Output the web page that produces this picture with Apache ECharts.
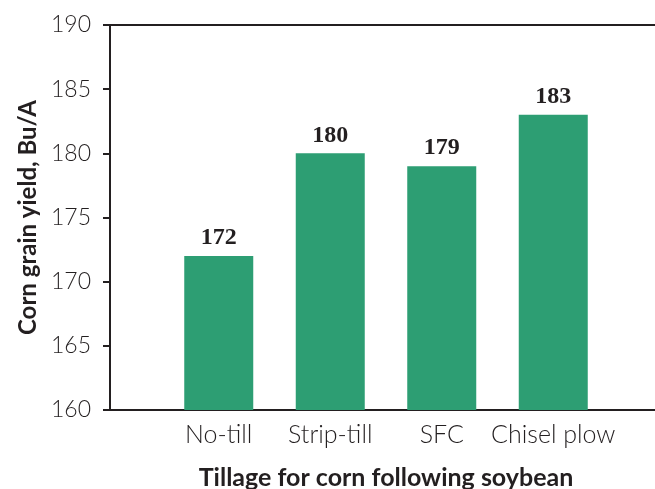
<!DOCTYPE html>
<html>
<head>
<meta charset="utf-8">
<script src="https://cdn.jsdelivr.net/npm/echarts@6/dist/echarts.min.js"></script>
<style>
  html, body { margin: 0; padding: 0; background: #fff; }
  #chart { width: 655px; height: 489px; }
</style>
</head>
<body>
<div id="chart"></div>
<script>
// Corn yield by tillage system (soybean-corn rotation)
const categories = ['No-till', 'Strip-till', 'SFC', 'Chisel plow'];
const yieldValues = [172, 180, 179, 183];
const yTicks = { min: 160, max: 190, step: 5 };

const textColor = '#231f20';
const labelFont = 'Lato, "Open Sans", sans-serif';

const chart = echarts.init(document.getElementById('chart'), null, { renderer: 'canvas' });

chart.setOption({
  animation: false,
  backgroundColor: '#ffffff',
  grid: [
    // frame: y axis with ticks, bottom and top rules spanning to the right edge
    { left: 110, right: 0, top: 25, bottom: 79, containLabel: false, outerBoundsMode: 'none' },
    // bars
    { left: 163, right: 46, top: 25, bottom: 79, containLabel: false, outerBoundsMode: 'none' }
  ],
  xAxis: [
    {
      gridIndex: 0, type: 'value', position: 'bottom', min: 0, max: 1,
      axisLine: { show: true, lineStyle: { color: textColor, width: 2 } },
      axisTick: { show: false }, axisLabel: { show: false }, splitLine: { show: false }
    },
    {
      gridIndex: 0, type: 'value', position: 'top', min: 0, max: 1,
      axisLine: { show: true, lineStyle: { color: textColor, width: 2 } },
      axisTick: { show: false }, axisLabel: { show: false }, splitLine: { show: false }
    },
    {
      gridIndex: 1, type: 'category', data: categories,
      axisLine: { show: false }, axisTick: { show: false },
      axisLabel: {
        interval: 0, color: textColor, fontFamily: labelFont, fontWeight: 300,
        fontSize: 25, margin: 12
      },
      name: 'Tillage for corn following soybean',
      nameLocation: 'middle', nameGap: 55,
      nameTextStyle: { color: textColor, fontFamily: labelFont, fontWeight: 'bold', fontSize: 25 }
    }
  ],
  yAxis: [
    {
      gridIndex: 0, type: 'value', min: yTicks.min, max: yTicks.max, interval: yTicks.step,
      axisLine: { show: true, lineStyle: { color: textColor, width: 2 } },
      axisTick: { show: true, inside: false, length: 7, lineStyle: { color: textColor, width: 2 } },
      axisLabel: { color: textColor, fontFamily: labelFont, fontWeight: 300, fontSize: 23, margin: 19 },
      splitLine: { show: false },
      name: 'Corn grain yield, Bu/A',
      nameLocation: 'middle', nameGap: 70,
      nameTextStyle: { color: textColor, fontFamily: labelFont, fontWeight: 'bold', fontSize: 24 }
    },
    {
      gridIndex: 1, type: 'value', min: yTicks.min, max: yTicks.max, interval: yTicks.step,
      show: false
    }
  ],
  series: [
    {
      type: 'bar',
      xAxisIndex: 2, yAxisIndex: 1,
      data: yieldValues,
      barWidth: 69,
      itemStyle: { color: '#2d9e73' },
      label: {
        show: true, position: 'top', distance: 6,
        color: textColor, fontFamily: '"Liberation Serif", "DejaVu Serif", serif',
        fontWeight: 'bold', fontSize: 24
      }
    }
  ]
});
</script>
</body>
</html>
